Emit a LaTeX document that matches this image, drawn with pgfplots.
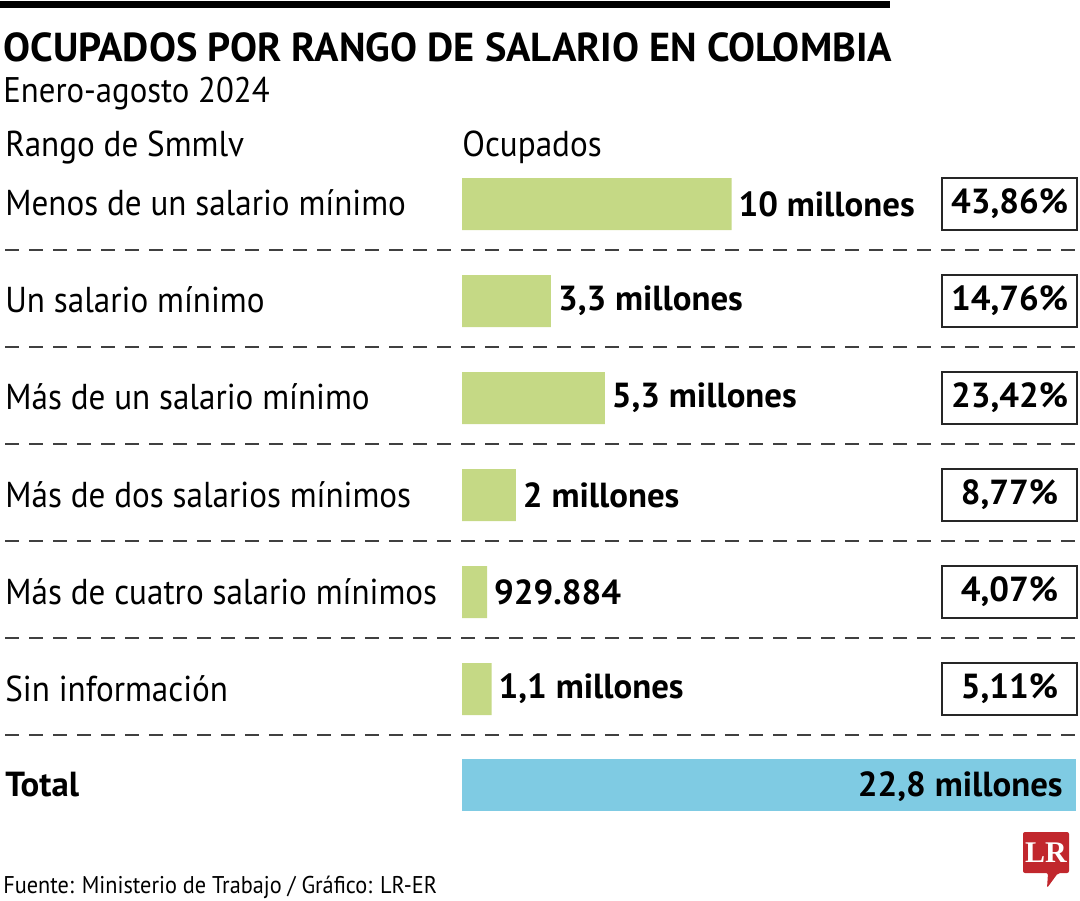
\documentclass[border=0pt]{standalone}
\usepackage{fontspec}
\setmainfont{PT Sans}
\newfontfamily\narrowfont[FakeStretch=0.92]{PT Sans}
\newfontfamily\lrfont{Liberation Serif}
\usepackage{pgfplots}
\usepackage{pgfplotstable}
\pgfplotsset{compat=1.18}
\definecolor{barg}{HTML}{C5D985}
\definecolor{barb}{HTML}{7FCBE3}
\definecolor{lrred}{HTML}{C1272D}
\newcommand{\titfont}{\fontsize{20.2pt}{24pt}\selectfont\bfseries}
\newcommand{\subfont}{\narrowfont\fontsize{17.8pt}{21pt}\selectfont}
\newcommand{\labfont}{\narrowfont\fontsize{18pt}{21pt}\selectfont}
\newcommand{\valfont}{\fontsize{17.4pt}{20pt}\selectfont\bfseries}
\newcommand{\srcfont}{\narrowfont\fontsize{12.1pt}{14pt}\selectfont}
\pgfplotstableread[col sep=semicolon]{
y;val;lab
204;10;10 millones
301;3.3;3,3 millones
398;5.3;5,3 millones
495;2;2 millones
592;0.929884;929.884
689;1.1;1,1 millones
}\rangos
\pgfplotstableread[col sep=semicolon]{
y;val
785;22.8
}\total
\begin{document}
\begin{tikzpicture}
\useasboundingbox (0,0) rectangle (540pt,450pt);
\begin{axis}[at={(0,0)}, anchor=south west, width=540pt, height=450pt, scale only axis,
  xmin=-17.143, xmax=22.931, ymin=0, ymax=900, y dir=reverse, hide axis, clip=false]
\addplot[xbar, bar width=52, bar shift=0pt, fill=barg, draw=none,
  point meta=explicit symbolic, nodes near coords={\pgfplotspointmeta},
  nodes near coords align={horizontal},
  every node near coord/.append style={font=\valfont, text=black, anchor=west}]
  table[x=val, y=y, meta=lab]{\rangos};
\addplot[xbar, bar width=52, bar shift=0pt, fill=barb, draw=none]
  table[x=val, y=y]{\total};
\end{axis}
\begin{scope}[shift={(0pt,450pt)}, x=0.5pt, y=-0.5pt]
\fill[black] (0,1) rectangle (890,8);
\node[anchor=base west, inner sep=0pt] at (3,62) {\titfont OCUPADOS POR RANGO DE SALARIO EN COLOMBIA};
\node[anchor=base west, inner sep=0pt] at (3,103) {\subfont Enero-agosto 2024};
\node[anchor=base west, inner sep=0pt] at (5,157) {\labfont Rango de Smmlv};
\node[anchor=base west, inner sep=0pt] at (462,157) {\labfont Ocupados};
\foreach \yy/\txt in {204/Menos de un salario mínimo, 301/Un salario mínimo, 398/Más de un salario mínimo, 495/Más de dos salarios mínimos, 592/Más de cuatro salario mínimos, 689/Sin información}{
  \node[anchor=base west, inner sep=0pt] at (5,\yy+12) {\labfont \txt};
}
\foreach \yy/\txt in {204/{43,86\%}, 301/{14,76\%}, 398/{23,42\%}, 495/{8,77\%}, 592/{4,07\%}, 689/{5,11\%}}{
  \draw[line width=0.75pt, black!85] (942,\yy-26) rectangle (1077,\yy+26);
  \node[anchor=center, inner sep=0pt] at (1009.5,\yy) {\valfont \txt};
}
\foreach \yy in {250,347,444,541,638,735}{
  \draw[line width=0.75pt, black!75, dash pattern=on 7pt off 5pt] (5,\yy) -- (1077,\yy);
}
\node[anchor=base west, inner sep=0pt] at (5,796) {\valfont Total};
\node[anchor=base east, inner sep=0pt] at (1063,796) {\valfont 22,8 millones};
\node[anchor=base west, inner sep=0pt] at (3,893) {\srcfont Fuente: Ministerio de Trabajo / Gráfico: LR-ER};
\fill[lrred, rounded corners=1pt] (1023,832) -- (1069,832) -- (1069,873) -- (1058,873) -- (1047,888) -- (1048,873) -- (1023,873) -- cycle;
\node[anchor=center, inner sep=0pt, text=white] at (1046,853) {\lrfont\bfseries\fontsize{15pt}{15pt}\selectfont LR};
\end{scope}
\end{tikzpicture}
\end{document}
